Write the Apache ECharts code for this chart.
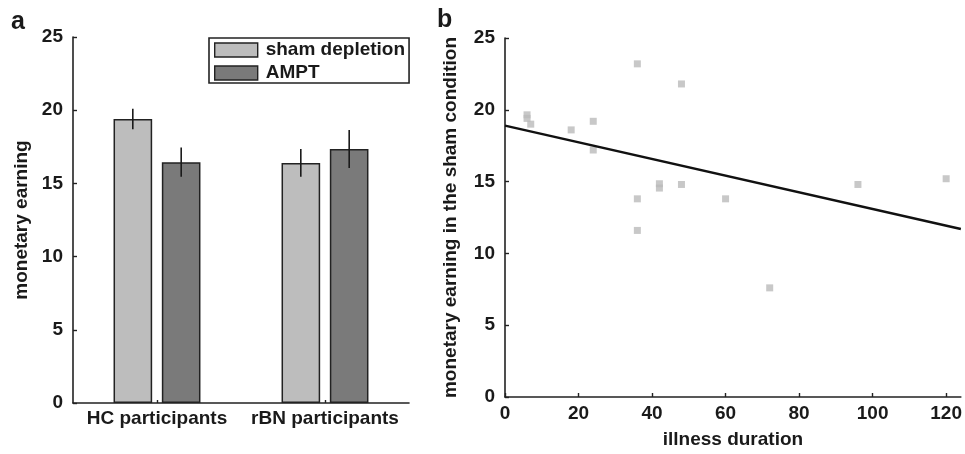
<!DOCTYPE html>
<html>
<head>
<meta charset="utf-8">
<script src="https://cdn.jsdelivr.net/npm/echarts@6/dist/echarts.min.js"></script>
<style>html,body{margin:0;padding:0;background:#fff}#c{width:965px;height:454px}</style>
</head>
<body>
<div id="c"></div>
<script>
// Panel a data
var groups = ['HC participants', 'rBN participants'];
var shamMean = [19.4, 16.4];
var shamErr = [0.7, 0.95];
var amptMean = [16.45, 17.35];
var amptErr = [1.0, 1.3];
var yTicksA = [0, 5, 10, 15, 20, 25];

// Panel b data (illness duration, monetary earning in sham condition)
var duration = [6, 6, 7, 18, 24, 24, 36, 36, 36, 42, 42, 48, 48, 60, 72, 96, 120];
var earning = [19.65, 19.4, 19.0, 18.6, 19.2, 17.2, 23.2, 13.8, 11.6, 14.85, 14.55, 21.8, 14.8, 13.8, 7.6, 14.8, 15.2];
var fitX = [0, 124];
var fitY = [18.9, 11.7];

var FONT = '"Liberation Sans", Arial, sans-serif';
var chart = echarts.init(document.getElementById('c'));

var scatterData = duration.map(function (d, i) { return [d, earning[i]]; });
var fitData = fitX.map(function (x, i) { return [x, fitY[i]]; });

function errSeries(name, means, errs, sign) {
  return {
    type: 'custom', name: name + ' err', xAxisIndex: 0, yAxisIndex: 0, silent: true, z: 5,
    data: means.map(function (m, i) { return [i, m - errs[i], m + errs[i]]; }),
    renderItem: function (params, api) {
      var band = api.size([1, 0])[0];
      var off = band * 0.144 * sign;
      var lo = api.coord([api.value(0), api.value(1)]);
      var hi = api.coord([api.value(0), api.value(2)]);
      var x = lo[0] + off;
      return { type: 'line', shape: { x1: x, y1: lo[1], x2: x, y2: hi[1] }, style: { stroke: '#1a1a1a', lineWidth: 1.6 } };
    }
  };
}

var axisLine = { show: true, lineStyle: { color: '#222', width: 1.6 } };
var axisTick = { show: true, inside: true, length: 4, lineStyle: { color: '#222', width: 1.4 } };
var tickLabel = { color: '#1a1a1a', fontFamily: FONT, fontWeight: 'bold', fontSize: 19 };
var nameStyle = { color: '#1a1a1a', fontFamily: FONT, fontWeight: 'bold', fontSize: 19 };

chart.setOption({
  animation: false,
  backgroundColor: '#fff',
  grid: [
    { left: 73, width: 336, top: 37, bottom: 51 },
    { left: 505, right: 0, top: 38, bottom: 52 }
  ],
  legend: {
    data: ['sham depletion', 'AMPT'],
    orient: 'vertical', left: 209, top: 38,
    padding: [2, 4, 0, 5], itemGap: 3,
    itemWidth: 43, itemHeight: 14,
    borderColor: '#222', borderWidth: 1.6,
    textStyle: { color: '#1a1a1a', fontFamily: FONT, fontWeight: 'bold', fontSize: 19, lineHeight: 20, padding: [0, 0, 0, 3] },
    itemStyle: { borderColor: '#222', borderWidth: 1.4 },
    icon: 'rect'
  },
  graphic: [
    { type: 'text', left: 11, top: 10, style: { text: 'a', fontFamily: FONT, fontWeight: 'bold', fontSize: 25, fill: '#1a1a1a' } },
    { type: 'text', left: 437, top: 8, style: { text: 'b', fontFamily: FONT, fontWeight: 'bold', fontSize: 25, fill: '#1a1a1a' } }
  ],
  xAxis: [
    {
      type: 'category', gridIndex: 0, data: groups,
      axisLine: axisLine,
      axisTick: { show: true, inside: true, length: 3, alignWithLabel: true, lineStyle: { color: '#222', width: 1.4 } },
      axisLabel: Object.assign({ margin: 6, interval: 0 }, tickLabel),
      splitLine: { show: false }
    },
    {
      type: 'value', gridIndex: 1, min: 0, max: 124, interval: 20,
      name: 'illness duration', nameLocation: 'middle', nameGap: 33,
      nameTextStyle: nameStyle,
      axisLine: axisLine, axisTick: axisTick,
      axisLabel: Object.assign({ margin: 7, showMaxLabel: false }, tickLabel),
      splitLine: { show: false }
    }
  ],
  yAxis: [
    {
      type: 'value', gridIndex: 0, min: 0, max: 25, interval: 5,
      name: 'monetary earning', nameLocation: 'middle', nameGap: 42,
      nameTextStyle: nameStyle,
      axisLine: axisLine, axisTick: axisTick,
      axisLabel: Object.assign({ margin: 10 }, tickLabel),
      splitLine: { show: false }
    },
    {
      type: 'value', gridIndex: 1, min: 0, max: 25, interval: 5,
      name: 'monetary earning in the sham condition', nameLocation: 'middle', nameGap: 45,
      nameTextStyle: nameStyle,
      axisLine: axisLine, axisTick: axisTick,
      axisLabel: Object.assign({ margin: 10 }, tickLabel),
      splitLine: { show: false }
    }
  ],
  series: [
    {
      type: 'bar', name: 'sham depletion', xAxisIndex: 0, yAxisIndex: 0,
      data: shamMean, barWidth: '23%', barGap: '25%',
      itemStyle: { color: '#bdbdbd', borderColor: '#222', borderWidth: 1.5 }
    },
    {
      type: 'bar', name: 'AMPT', xAxisIndex: 0, yAxisIndex: 0,
      data: amptMean, barWidth: '23%', barGap: '25%',
      itemStyle: { color: '#7a7a7a', borderColor: '#222', borderWidth: 1.5 }
    },
    errSeries('sham', shamMean, shamErr, -1),
    errSeries('ampt', amptMean, amptErr, 1),
    {
      type: 'scatter', xAxisIndex: 1, yAxisIndex: 1, data: scatterData,
      symbol: 'rect', symbolSize: 7, itemStyle: { color: '#bababa' }, z: 3
    },
    {
      type: 'line', xAxisIndex: 1, yAxisIndex: 1, data: fitData,
      showSymbol: false, symbol: 'none', lineStyle: { color: '#111', width: 2.4 }, z: 4
    }
  ]
});
</script>
</body>
</html>
